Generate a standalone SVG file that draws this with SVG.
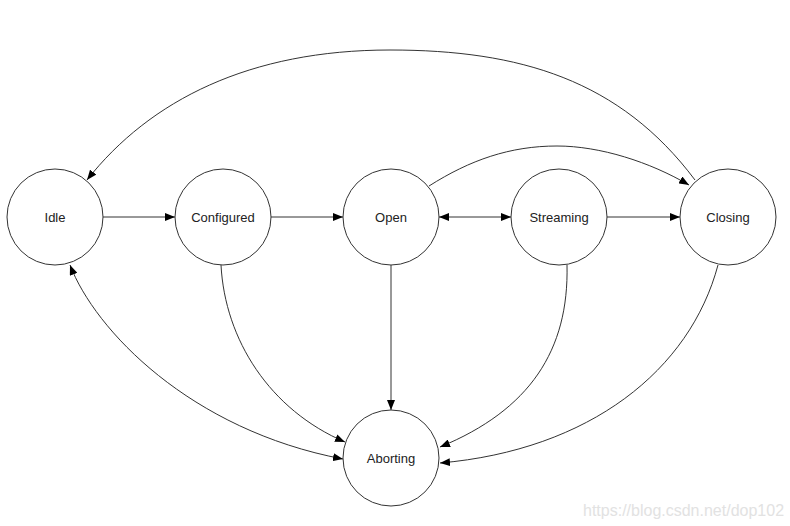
<svg xmlns="http://www.w3.org/2000/svg" width="790" height="526" viewBox="0 0 790 526">
<style>
.node circle{fill:#fff;stroke:#333;stroke-width:1}
.node text{font-family:"Liberation Sans",Arial,sans-serif;font-size:13px;fill:#222;text-anchor:middle}
#edges path{fill:none;stroke:#333;stroke-width:1}
.wm{font-family:"Liberation Sans",Arial,sans-serif;font-size:16px;fill:#e2e2e2}
</style>
<defs>
<marker id="ah" viewBox="0 0 10 8" refX="10" refY="4" markerWidth="10" markerHeight="8" markerUnits="userSpaceOnUse" orient="auto-start-reverse">
<path d="M0,0 L10,4 L0,8 Z" fill="#000"/>
</marker>
</defs>
<rect width="790" height="526" fill="#fff"/>
<g id="edges">
<path d="M103,217 L175,217" marker-end="url(#ah)"/>
<path d="M271,217 L343,217" marker-end="url(#ah)"/>
<path d="M439,217 L511,217" marker-start="url(#ah)" marker-end="url(#ah)"/>
<path d="M607,217 L680,217" marker-end="url(#ah)"/>
<path d="M429,186 C470,160 510,146 557,146 C600,146 650,162 689,185" marker-end="url(#ah)"/>
<path d="M695,180 C620,80 520,50 390,50 C250,50 150,100 87,180" marker-end="url(#ah)"/>
<path d="M70,265 C95,330 190,430 343,459" marker-start="url(#ah)" marker-end="url(#ah)"/>
<path d="M221,265 C225,340 270,410 345,442" marker-end="url(#ah)"/>
<path d="M391,265 L391,410" marker-end="url(#ah)"/>
<path d="M567,265 C569,350 530,410 440,447" marker-end="url(#ah)"/>
<path d="M718,265 C690,370 590,450 440,463" marker-end="url(#ah)"/>
</g>
<g id="idle" class="node"><circle cx="55" cy="217" r="48"/><text x="55" y="222">Idle</text></g>
<g id="configured" class="node"><circle cx="223" cy="217" r="48"/><text x="223" y="222">Configured</text></g>
<g id="open" class="node"><circle cx="391" cy="217" r="48"/><text x="391" y="222">Open</text></g>
<g id="streaming" class="node"><circle cx="559" cy="217" r="48"/><text x="559" y="222">Streaming</text></g>
<g id="closing" class="node"><circle cx="728" cy="217" r="48"/><text x="728" y="222">Closing</text></g>
<g id="aborting" class="node"><circle cx="391" cy="458" r="48"/><text x="391" y="463">Aborting</text></g>
<text class="wm" x="583" y="516">https://blog.csdn.net/dop102</text>
</svg>
